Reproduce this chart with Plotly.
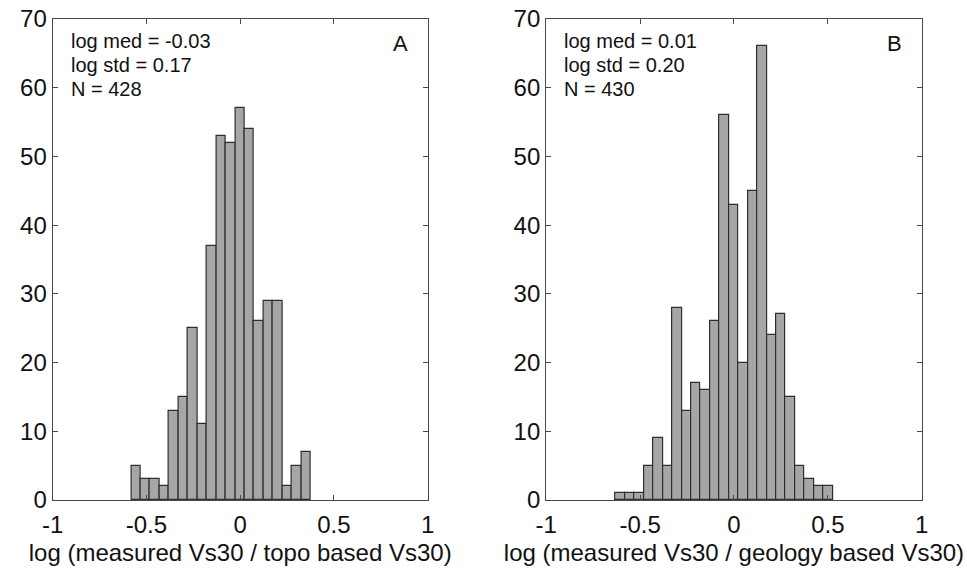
import numpy as np
import plotly.graph_objects as go

# Panel A: topo-based
a_bin_start = -0.581
a_bin_width = 0.0504
a_counts = [5, 3, 3, 2, 13, 15, 25, 11, 37, 53, 52, 57, 54, 26, 29, 29, 2, 5, 7]
a_stats = ["log med = -0.03", "log std = 0.17", "N = 428"]
a_label = "A"
a_title = "log (measured Vs30 / topo based Vs30)"

# Panel B: geology-based
b_bin_start = -0.630
b_bin_width = 0.0503
b_counts = [1, 1, 1, 5, 9, 5, 28, 13, 17, 16, 26, 56, 43, 20, 45, 66, 24, 27, 15, 5, 3, 2, 2]
b_stats = ["log med = 0.01", "log std = 0.20", "N = 430"]
b_label = "B"
b_title = "log (measured Vs30 / geology based Vs30)"

x_tickvals = [-1, -0.5, 0, 0.5, 1]
x_ticktext = ["-1", "-0.5", "0", "0.5", "1"]
y_tickvals = [0, 10, 20, 30, 40, 50, 60, 70]

FONT = "Liberation Sans, Arial, Helvetica, sans-serif"
W, H = 967, 569
AX = "#4a4a4a"

fig = go.Figure()

def centers(start, width, n):
    return start + width * (np.arange(n) + 0.5)

for counts, start, width, xa, ya in [
    (a_counts, a_bin_start, a_bin_width, "x", "y"),
    (b_counts, b_bin_start, b_bin_width, "x2", "y2"),
]:
    fig.add_trace(go.Bar(
        x=centers(start, width, len(counts)), y=counts, width=width,
        marker=dict(color="#a6a6a6", line=dict(color="#2e2e2e", width=1.2)),
        xaxis=xa, yaxis=ya, showlegend=False,
    ))

ydom = [(H - 500) / H, (H - 19) / H]
xdomA = [52.7 / W, 427.7 / W]
xdomB = [546.2 / W, 921.7 / W]

xcommon = dict(range=[-1, 1], tickvals=x_tickvals, ticktext=x_ticktext,
               ticks="inside", ticklen=5, tickcolor=AX, showline=True, linecolor=AX,
               linewidth=1.3, mirror="ticks", showgrid=False, zeroline=False,
               automargin=False, ticklabelstandoff=3,
               tickfont=dict(family=FONT, size=24, color="#111"),
               title_font=dict(family=FONT, size=24, color="#111"),
               title_standoff=7)
ycommon = dict(range=[0, 70], tickvals=y_tickvals,
               ticks="inside", ticklen=5, tickcolor=AX, showline=True, linecolor=AX,
               linewidth=1.3, mirror="ticks", showgrid=False, zeroline=False,
               automargin=False,
               tickfont=dict(family=FONT, size=24, color="#111"))

fig.update_layout(
    width=W, height=H, margin=dict(l=0, r=0, t=0, b=0),
    paper_bgcolor="white", plot_bgcolor="white", bargap=0,
    xaxis=dict(domain=xdomA, anchor="y", title_text=a_title, **xcommon),
    yaxis=dict(domain=ydom, anchor="x", **ycommon),
    xaxis2=dict(domain=xdomB, anchor="y2", title_text=b_title, **xcommon),
    yaxis2=dict(domain=ydom, anchor="x2", **ycommon),
)

anns = []
for stats, label, xr, yr in [(a_stats, a_label, "x domain", "y domain"),
                             (b_stats, b_label, "x2 domain", "y2 domain")]:
    for i, s in enumerate(stats):
        anns.append(dict(text=s, xref=xr, yref=yr, x=0.043, y=1 - (22.5 + 23.7 * i) / 481,
                         xanchor="left", yanchor="middle", showarrow=False,
                         font=dict(family=FONT, size=20, color="#111")))
    anns.append(dict(text=label, xref=xr, yref=yr, x=1 - 27 / 375, y=1 - 24.5 / 481,
                     xanchor="center", yanchor="middle", showarrow=False,
                     font=dict(family=FONT, size=22, color="#111")))
fig.update_layout(annotations=anns)

fig.write_html("out.html")
